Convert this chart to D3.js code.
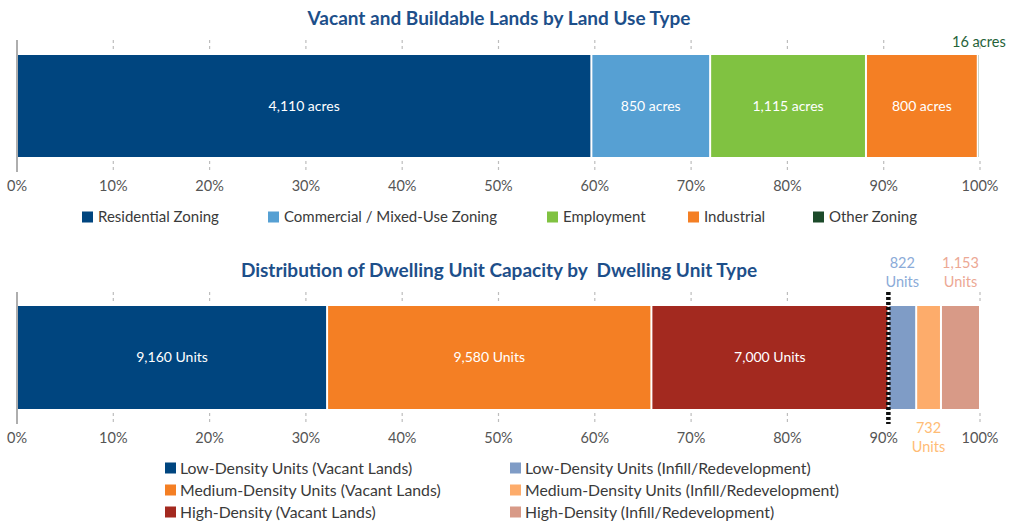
<!DOCTYPE html>
<html>
<head>
<meta charset="utf-8">
<script src="https://cdn.jsdelivr.net/npm/d3@7"></script>
<style>
  html, body { margin: 0; padding: 0; background: #fff; }
  svg { display: block; font-family: Lato, "Open Sans", sans-serif; }
</style>
</head>
<body>
<svg id="chart" width="1009" height="525"></svg>
<script>
// ---- Land use data (acres) ----
const landTypes  = ["Residential Zoning", "Commercial / Mixed-Use Zoning", "Employment", "Industrial", "Other Zoning"];
const landAcres  = [4110, 850, 1115, 800, 16];
const landColors = ["#00457f", "#56a0d3", "#80c241", "#f47f24", "#1c4a2a"];

// ---- Dwelling unit capacity data (units) ----
const unitTypes  = ["Low-Density Units (Vacant Lands)", "Medium-Density Units (Vacant Lands)", "High-Density (Vacant Lands)",
                    "Low-Density Units (Infill/Redevelopment)", "Medium-Density Units (Infill/Redevelopment)", "High-Density (Infill/Redevelopment)"];
const unitCounts = [9160, 9580, 7000, 822, 732, 1153];
const unitColors = ["#00457f", "#f47f24", "#a3291f", "#7f9cc6", "#fdac6b", "#d89a87"];
const vacantCount = 3; // first three unit types are vacant lands

// ---- Axis ticks ----
const percentTicks = [0, 10, 20, 30, 40, 50, 60, 70, 80, 90, 100];

const svg = d3.select("#chart");
const x = d3.scaleLinear().domain([0, 100]).range([17, 980]);
const fmt = d3.format(",");

function stackShares(values) {
  const total = d3.sum(values);
  let acc = 0;
  return values.map((v, i) => {
    const s = { i, value: v, x0: acc, x1: acc + v / total * 100 };
    acc = s.x1;
    return s;
  });
}

function drawPanel(cfg) {
  const g = svg.append("g");
  const segs = stackShares(cfg.values);

  // title
  g.append("text")
    .attr("x", 499).attr("y", cfg.titleY)
    .attr("dy", "0.35em")
    .attr("text-anchor", "middle")
    .style("white-space", "pre")
    .attr("font-size", 19).attr("font-weight", 700)
    .attr("fill", "#1d4f8a")
    .text(cfg.title);

  // dashed tick marks above and below the bar
  const gridTicks = percentTicks.filter(t => t > 0 && !(cfg.skipTick && cfg.skipTick(t)));
  [[cfg.axisTop, cfg.barTop - 3], [cfg.barBottom + 4, cfg.axisBottom]].forEach(([y0, y1]) => {
    g.selectAll(null).data(gridTicks).enter().append("line")
      .attr("x1", d => x(d)).attr("x2", d => x(d))
      .attr("y1", y0).attr("y2", y1)
      .attr("stroke", "#bdbdbd").attr("stroke-width", 1.2)
      .attr("stroke-dasharray", "3,3");
  });

  // baseline at 0%
  g.append("line")
    .attr("x1", x(0)).attr("x2", x(0))
    .attr("y1", cfg.axisTop).attr("y2", cfg.axisBottom)
    .attr("stroke", "#9a9a9a").attr("stroke-width", 1.6);

  // stacked segments
  g.selectAll(null).data(segs).enter().append("rect")
    .attr("x", d => x(d.x0) + 1)
    .attr("y", cfg.barTop)
    .attr("width", d => Math.max(0, x(d.x1) - x(d.x0) - 2))
    .attr("height", cfg.barBottom - cfg.barTop)
    .attr("fill", d => cfg.colors[d.i]);

  // labels: inside wide segments, outside (alternating above/below) for narrow ones
  const mid = (cfg.barTop + cfg.barBottom) / 2;
  let outside = 0;
  segs.forEach(d => {
    const cx = x((d.x0 + d.x1) / 2);
    const txt = fmt(d.value) + " " + cfg.unit;
    if (d.x1 - d.x0 > 8) {
      g.append("text")
        .attr("x", cx).attr("y", mid)
        .attr("dy", "0.35em").attr("text-anchor", "middle")
        .attr("font-size", 14).attr("fill", "#ffffff")
        .text(txt);
    } else {
      const above = outside % 2 === 0;
      outside++;
      const col = d3.color(cfg.colors[d.i]).brighter(cfg.labelBrighten).formatHex();
      const lines = cfg.stackOutside ? [fmt(d.value), cfg.unit] : [txt];
      const lh = 19;
      const baseY = above ? cfg.outsideAboveY - (lines.length - 1) * lh : cfg.outsideBelowY;
      lines.forEach((ln, k) => {
        g.append("text")
          .attr("x", cx).attr("y", baseY + k * lh)
          .attr("dy", "0.35em").attr("text-anchor", "middle")
          .attr("font-size", 14.5).attr("fill", col)
          .text(ln);
      });
    }
  });

  // bottom tick labels
  g.selectAll(null).data(percentTicks).enter().append("text")
    .attr("x", d => x(d)).attr("y", cfg.tickLabelY)
    .attr("dy", "0.35em").attr("text-anchor", "middle")
    .attr("font-size", 14.5).attr("fill", "#555")
    .text(d => d + "%");

  return { g, segs };
}

// ---- Top panel: land use ----
drawPanel({
  title: "Vacant and Buildable Lands by Land Use Type",
  titleY: 18,
  values: landAcres, colors: landColors, unit: "acres",
  axisTop: 40, barTop: 55, barBottom: 157, axisBottom: 172, tickLabelY: 186,
  outsideAboveY: 42, outsideBelowY: 0, stackOutside: false, labelBrighten: 0.8
});

// legend for land use
const landLegendX = [82, 268, 547, 688, 813];
const lg = svg.append("g");
landTypes.forEach((name, i) => {
  const item = lg.append("g").attr("transform", `translate(${landLegendX[i]},217)`);
  item.append("rect").attr("x", 0).attr("y", -5.5).attr("width", 11).attr("height", 11).attr("fill", landColors[i]);
  item.append("text").attr("x", 16).attr("dy", "0.35em")
    .attr("font-size", 15).attr("fill", "#3a3a3a").text(name);
});

// ---- Bottom panel: dwelling units ----
const unitPanel = drawPanel({
  title: "Distribution of Dwelling Unit Capacity by  Dwelling Unit Type",
  titleY: 270,
  values: unitCounts, colors: unitColors, unit: "Units",
  axisTop: 292, barTop: 306, barBottom: 409, axisBottom: 424, tickLabelY: 438,
  outsideAboveY: 282, outsideBelowY: 428, stackOutside: true, labelBrighten: 0.25,
  skipTick: t => t === 90
});

// divider between vacant-land and infill capacity
const splitX = x(unitPanel.segs[vacantCount - 1].x1);
svg.append("line")
  .attr("x1", splitX).attr("x2", splitX)
  .attr("y1", 292).attr("y2", 424)
  .attr("stroke", "#111").attr("stroke-width", 4.5)
  .attr("stroke-dasharray", "3,2");

// legend for dwelling units (two columns, three rows)
const ug = svg.append("g");
unitTypes.forEach((name, i) => {
  const col = Math.floor(i / 3), row = i % 3;
  const item = ug.append("g").attr("transform", `translate(${col === 0 ? 165 : 510},${468 + row * 22})`);
  item.append("rect").attr("x", 0).attr("y", -5.5).attr("width", 11).attr("height", 11).attr("fill", unitColors[i]);
  item.append("text").attr("x", 15).attr("dy", "0.35em")
    .attr("font-size", 15.8).attr("fill", "#3a3a3a").text(name);
});
</script>
</body>
</html>
